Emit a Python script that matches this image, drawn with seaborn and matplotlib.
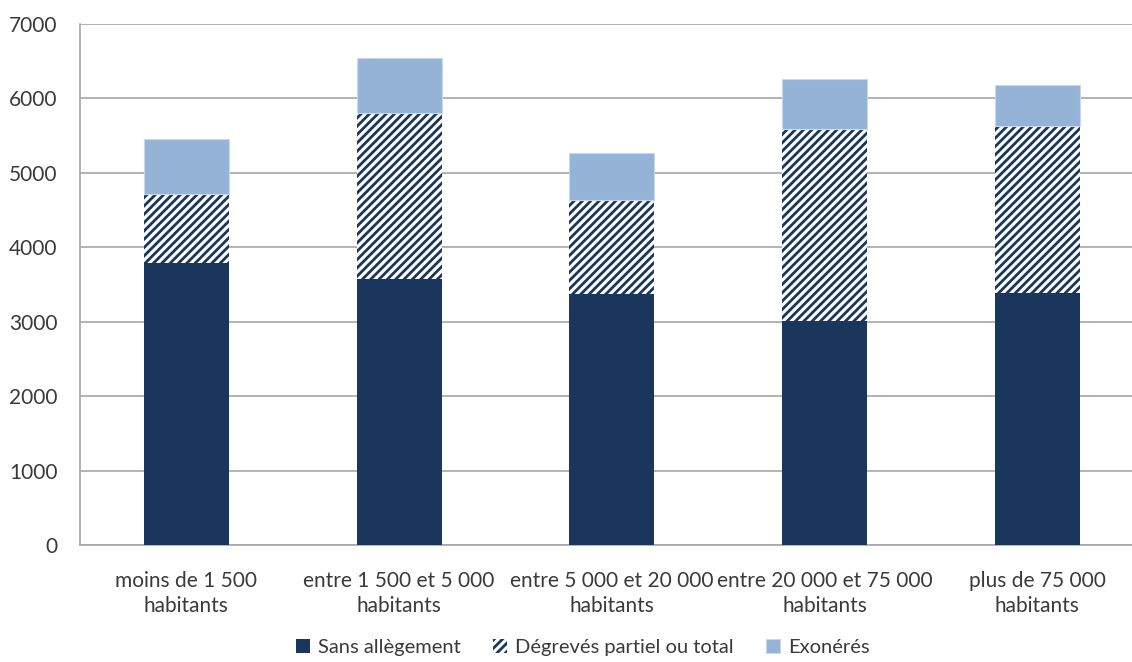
import numpy as np
import pandas as pd
import matplotlib
matplotlib.use('Agg')
import matplotlib.pyplot as plt
import seaborn as sns

# donnees
categories = ['moins de 1 500\nhabitants', 'entre 1 500 et 5 000\nhabitants',
              'entre 5 000 et 20 000\nhabitants', 'entre 20 000 et 75 000\nhabitants',
              'plus de 75 000\nhabitants']
sans_allegement = [3790, 3575, 3375, 3010, 3385]
degreves = [930, 2230, 1260, 2580, 2245]
exoneres = [740, 740, 630, 670, 550]

series_names = ['Sans allègement', 'Dégrevés partiel ou total', 'Exonérés']

sns.set_style('white')
plt.rcParams['font.family'] = ['Lato', 'DejaVu Sans']
plt.rcParams['hatch.color'] = '#1B365D'
plt.rcParams['hatch.linewidth'] = 2.0

dark = '#1B365D'
light = '#95B3D7'

df = pd.DataFrame({'cat': categories, 'sans': sans_allegement,
                   'deg': degreves, 'exo': exoneres})

fig = plt.figure(figsize=(11.32, 6.62), dpi=100)
ax = fig.add_axes([80 / 1132, 1 - 545 / 662, 1 - 80 / 1132, (545 - 24) / 662])

sns.barplot(data=df, x='cat', y='sans', color=dark, width=0.4, ax=ax,
            saturation=1, label=series_names[0], linewidth=0, zorder=3)
sns.barplot(data=df, x='cat', y='deg', color='white', width=0.4, ax=ax,
            saturation=1, bottom=df['sans'], hatch='////', linewidth=0,
            label=series_names[1], zorder=3)
sns.barplot(data=df, x='cat', y='exo', color=light, width=0.4, ax=ax,
            saturation=1, bottom=df['sans'] + df['deg'], edgecolor='#C8D8EC',
            linewidth=0.8, label=series_names[2], zorder=3)

for p in ax.patches[5:10]:
    p.set_edgecolor(dark)
    p.set_linewidth(0)

handles, labels = ax.get_legend_handles_labels()
if ax.get_legend() is not None:
    ax.get_legend().remove()

ax.set_ylim(0, 7000)
ax.set_xlim(-0.5, 4.446)
ax.set_yticks(np.arange(0, 7001, 1000))
ax.yaxis.grid(True, color='#A6A6A6', linewidth=1.2, zorder=0)
ax.set_axisbelow(True)

ax.set_xlabel('')
ax.set_ylabel('')
ax.set_xticks(range(len(categories)))
ax.set_xticklabels(categories, fontsize=15, color='#3A3A3A', linespacing=1.3)
ax.set_xticks(np.arange(-0.5, 4.5, 1), minor=True)
ax.tick_params(axis='x', which='major', length=0, pad=19)
ax.tick_params(axis='x', which='minor', length=8, color='#A6A6A6', width=1.2,
               direction='out')
ax.tick_params(axis='y', length=8, color='#A6A6A6', width=1.2, labelsize=15,
               labelcolor='#3A3A3A', pad=8, direction='out')

for side in ['top', 'right']:
    ax.spines[side].set_visible(False)
for side in ['left', 'bottom']:
    ax.spines[side].set_color('#A6A6A6')
    ax.spines[side].set_linewidth(1.2)

leg = fig.legend(handles, labels, loc='lower center', bbox_to_anchor=(0.515, -0.018),
                 ncol=3, frameon=False, fontsize=14.5, handlelength=0.7,
                 handleheight=0.7, columnspacing=1.6, handletextpad=0.4)
for t in leg.get_texts():
    t.set_color('#3A3A3A')

fig.savefig('out.png', dpi=100)
